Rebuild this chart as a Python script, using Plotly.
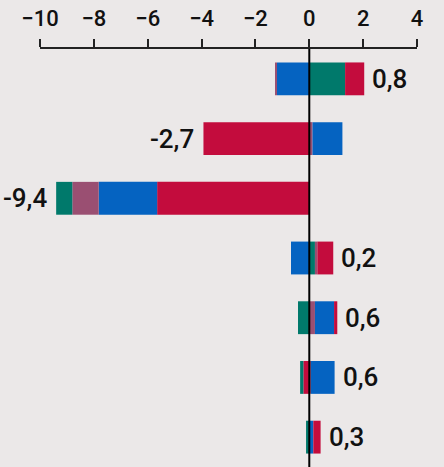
import plotly.graph_objects as go

rows = ["r1", "r2", "r3", "r4", "r5", "r6", "r7"]
teal = [1.33, 0.0, -0.60, 0.21, -0.42, -0.12, -0.12]
mauve = [-0.04, 0.12, -0.98, 0.09, 0.21, 0.06, 0.0]
blue = [-1.20, 1.11, -2.17, -0.68, 0.71, 0.88, 0.15]
red = [0.71, -3.93, -5.65, 0.59, 0.12, -0.22, 0.27]
totals = [0.8, -2.7, -9.4, 0.2, 0.6, 0.6, 0.3]

colors = {"teal": "#00796B", "mauve": "#9A4F72", "blue": "#0563C1", "red": "#C30C3D"}
series = {"teal": teal, "mauve": mauve, "blue": blue, "red": red}

fig = go.Figure()

# positive side stacks teal -> red, negative side stacks red -> teal
for name in ["teal", "mauve", "blue", "red"]:
    vals = [v if v > 0 else None for v in series[name]]
    fig.add_trace(go.Bar(y=rows, x=vals, orientation="h", marker={"color": colors[name], "line": {"width": 0}}, showlegend=False))
for name in ["red", "blue", "mauve", "teal"]:
    vals = [v if v < 0 else None for v in series[name]]
    fig.add_trace(go.Bar(y=rows, x=vals, orientation="h", marker={"color": colors[name], "line": {"width": 0}}, showlegend=False))

# total labels at the end of each bar
for i, row in enumerate(rows):
    pos = sum(s[i] for s in series.values() if s[i] > 0)
    neg = sum(s[i] for s in series.values() if s[i] < 0)
    label = f"{totals[i]:.1f}".replace(".", ",")
    if totals[i] >= 0:
        fig.add_annotation(x=pos, y=row, text=label, showarrow=False, xanchor="left", xshift=6,
                           font={"size": 26, "color": "#111111", "weight": 500})
    else:
        fig.add_annotation(x=neg, y=row, text=label, showarrow=False, xanchor="right", xshift=-7,
                           font={"size": 26, "color": "#111111", "weight": 500})

fig.add_shape(type="line", x0=0, x1=0, xref="x", y0=0, y1=1, yref="paper", line={"color": "black", "width": 2})

fig.update_layout(
    barmode="relative",
    bargap=0.45,
    width=444,
    height=467,
    margin={"l": 40, "r": 27, "t": 49, "b": 0, "autoexpand": False},
    paper_bgcolor="#EBE8E8",
    plot_bgcolor="#EBE8E8",
    font={"family": "Roboto, sans-serif", "color": "#111111"},
)
fig.update_xaxes(
    side="top",
    range=[-10, 4],
    dtick=2,
    automargin=False,
    showgrid=False,
    zeroline=False,
    showline=True,
    linecolor="#222222",
    linewidth=1.5,
    ticks="outside",
    ticklen=8,
    tickwidth=1.5,
    tickcolor="#222222",
    tickfont={"size": 22, "weight": 500},
    ticklabelstandoff=4,
    fixedrange=True,
)
fig.update_yaxes(visible=False, autorange="reversed", fixedrange=True)

fig.write_html("out.html", post_script="document.body.style.margin='0';", config={"displayModeBar": False})
